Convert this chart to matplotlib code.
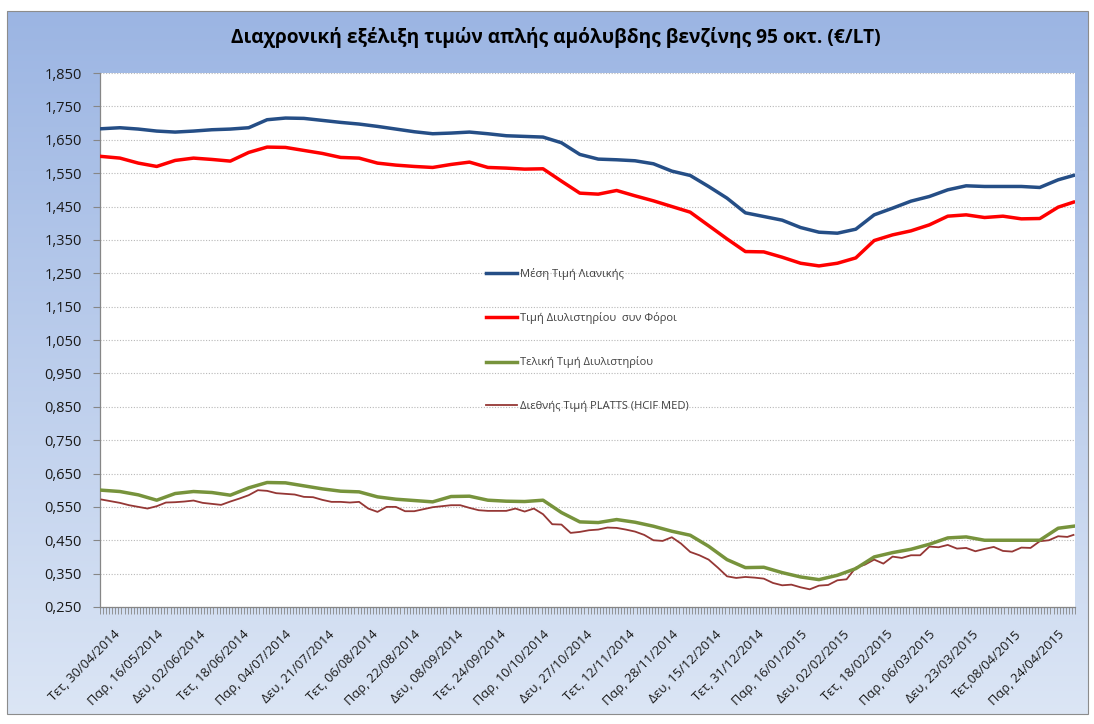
import numpy as np
import pandas as pd
import matplotlib
matplotlib.use('Agg')
import matplotlib.pyplot as plt
import matplotlib.transforms as mtransforms
from matplotlib.patches import Rectangle

plt.rcParams['font.family'] = ['Open Sans', 'DejaVu Sans']

# category axis: Mon-Sat price days
days = pd.bdate_range('2014-04-30', periods=318, freq='C', weekmask='Mon Tue Wed Thu Fri Sat')
n_days = len(days)

# weekly readings (every 6 price days, plus last day)
weekly_pos = list(range(0, 313, 6)) + [n_days - 1]
# twice-weekly readings for the noisier PLATTS series
platts_pos = list(range(0, 316, 3)) + [n_days - 1]

retail = [1.683, 1.686, 1.682, 1.676, 1.673, 1.676, 1.680, 1.682, 1.686, 1.710,
          1.715, 1.714, 1.708, 1.702, 1.697, 1.690, 1.682, 1.674, 1.668, 1.670,
          1.673, 1.668, 1.662, 1.660, 1.658, 1.641, 1.606, 1.592, 1.590, 1.587,
          1.578, 1.556, 1.543, 1.510, 1.475, 1.431, 1.420, 1.409, 1.387, 1.373,
          1.370, 1.382, 1.425, 1.445, 1.466, 1.480, 1.500, 1.512, 1.510, 1.510,
          1.510, 1.507, 1.530, 1.543]

refinery_tax = [1.600, 1.595, 1.580, 1.570, 1.588, 1.595, 1.591, 1.586, 1.612, 1.628,
                1.627, 1.618, 1.609, 1.597, 1.595, 1.580, 1.574, 1.570, 1.567, 1.576,
                1.583, 1.567, 1.565, 1.562, 1.563, 1.526, 1.490, 1.487, 1.498, 1.482,
                1.467, 1.450, 1.433, 1.393, 1.353, 1.315, 1.314, 1.298, 1.280, 1.272,
                1.280, 1.296, 1.348, 1.365, 1.377, 1.395, 1.421, 1.425, 1.417, 1.421,
                1.413, 1.414, 1.448, 1.463]

refinery = [0.600, 0.596, 0.586, 0.570, 0.590, 0.596, 0.593, 0.585, 0.607, 0.623,
            0.622, 0.613, 0.604, 0.597, 0.595, 0.580, 0.573, 0.569, 0.565, 0.581,
            0.582, 0.570, 0.567, 0.566, 0.570, 0.533, 0.505, 0.503, 0.512, 0.504,
            0.492, 0.477, 0.465, 0.432, 0.392, 0.368, 0.369, 0.353, 0.340, 0.332,
            0.345, 0.365, 0.400, 0.413, 0.423, 0.438, 0.457, 0.460, 0.450, 0.450,
            0.450, 0.450, 0.486, 0.492]

platts = [0.572, 0.567, 0.562, 0.555, 0.550, 0.545, 0.552, 0.563, 0.564, 0.566,
          0.569, 0.562, 0.559, 0.556, 0.566, 0.575, 0.585, 0.600, 0.598, 0.591,
          0.589, 0.587, 0.580, 0.579, 0.571, 0.565, 0.565, 0.563, 0.565, 0.545,
          0.535, 0.550, 0.550, 0.537, 0.537, 0.543, 0.549, 0.552, 0.555, 0.555,
          0.547, 0.540, 0.538, 0.538, 0.538, 0.545, 0.536, 0.545, 0.528, 0.498,
          0.497, 0.472, 0.475, 0.480, 0.482, 0.488, 0.487, 0.482, 0.476, 0.466,
          0.450, 0.448, 0.459, 0.440, 0.415, 0.405, 0.392, 0.368, 0.342, 0.337,
          0.340, 0.338, 0.335, 0.322, 0.315, 0.317, 0.309, 0.303, 0.314, 0.316,
          0.330, 0.333, 0.368, 0.377, 0.392, 0.380, 0.401, 0.397, 0.405, 0.405,
          0.431, 0.429, 0.436, 0.425, 0.427, 0.417, 0.424, 0.430, 0.418, 0.416,
          0.428, 0.427, 0.447, 0.450, 0.462, 0.460, 0.466]

tick_labels = ['Τετ, 30/04/2014', 'Παρ, 16/05/2014', 'Δευ, 02/06/2014', 'Τετ, 18/06/2014',
               'Παρ, 04/07/2014', 'Δευ, 21/07/2014', 'Τετ, 06/08/2014', 'Παρ, 22/08/2014',
               'Δευ, 08/09/2014', 'Τετ, 24/09/2014', 'Παρ, 10/10/2014', 'Δευ, 27/10/2014',
               'Τετ, 12/11/2014', 'Παρ, 28/11/2014', 'Δευ, 15/12/2014', 'Τετ, 31/12/2014',
               'Παρ, 16/01/2015', 'Δευ, 02/02/2015', 'Τετ, 18/02/2015', 'Παρ, 06/03/2015',
               'Δευ, 23/03/2015', 'Τετ,08/04/2015', 'Παρ, 24/04/2015']
tick_pos = list(range(0, n_days, 14))

series_names = ['Μέση Τιμή Λιανικής', 'Τιμή Διυλιστηρίου  συν Φόροι',
                'Τελική Τιμή Διυλιστηρίου', 'Διεθνής Τιμή PLATTS (HCIF MED)']

W, H = 1094, 724
fig = plt.figure(figsize=(W / 100, H / 100), dpi=100)
fig.patch.set_facecolor('white')

# chart area background with vertical gradient
bg = fig.add_axes([0, 0, 1, 1], zorder=-5)
bg.set_xlim(0, W)
bg.set_ylim(H, 0)
bg.axis('off')
x0, y0, x1, y1 = 7, 11, 1088, 714
grad = np.linspace(0, 1, 256).reshape(-1, 1)
top = np.array([0.61, 0.71, 0.89])
bot = np.array([0.86, 0.90, 0.96])
img = top + grad[..., None] * (bot - top)
bg.imshow(img, extent=[x0, x1, y1, y0], aspect='auto', interpolation='bilinear')
bg.add_patch(Rectangle((x0, y0), x1 - x0, y1 - y0, fill=False, edgecolor='#8c8c8c', lw=0.8))

fig.text(556 / W, 1 - 38 / H,
         'Διαχρονική εξέλιξη τιμών απλής αμόλυβδης βενζίνης 95 οκτ. (€/LT)',
         ha='center', va='center', fontsize=13.8, fontweight='bold', color='black')

ax = fig.add_axes([100 / W, 1 - 607 / H, 975 / W, 534 / H])
ax.set_facecolor('white')

ax.plot(weekly_pos, retail, color='#254E86', lw=2.5, label=series_names[0], zorder=4)
ax.plot(weekly_pos, refinery_tax, color='#FF0000', lw=2.5, label=series_names[1], zorder=4)
ax.plot(weekly_pos, refinery, color='#77933C', lw=2.5, label=series_names[2], zorder=4)
ax.plot(platts_pos, platts, color='#953735', lw=1.3, label=series_names[3], zorder=3)

ax.set_xlim(-0.5, n_days - 0.5)
ax.set_ylim(0.25, 1.85)

yt = np.arange(0.25, 1.851, 0.1)
ax.set_yticks(yt)
ax.set_yticklabels([('%.3f' % v).replace('.', ',') for v in yt], fontsize=10.5, color='#1a1a1a')
ax.tick_params(axis='y', length=5, width=0.8, color='#868686', pad=8)
ax.yaxis.grid(True, linestyle=(0, (1, 1.5)), color='#b8b8b8', lw=0.8)
ax.set_axisbelow(True)

ax.set_xticks(tick_pos)
ax.set_xticklabels(tick_labels, rotation=45, ha='right', rotation_mode='anchor',
                   fontsize=9.3, color='#1a1a1a')
ax.set_xticks(np.arange(-0.5, n_days, 1), minor=True)
ax.tick_params(axis='x', which='major', length=0, pad=15)
ax.tick_params(axis='x', which='minor', length=5, width=0.6, color='#868686')
shift = mtransforms.ScaledTranslation(12 / 100, 0, fig.dpi_scale_trans)
for lab in ax.get_xticklabels():
    lab.set_transform(lab.get_transform() + shift)

for side in ['top', 'right']:
    ax.spines[side].set_visible(False)
for side in ['left', 'bottom']:
    ax.spines[side].set_color('#868686')
    ax.spines[side].set_linewidth(0.9)

leg = ax.legend(loc='upper left', bbox_to_anchor=(480 / W, 1 - 262 / H),
                bbox_transform=fig.transFigure, frameon=False, fontsize=8,
                labelspacing=2.92, handlelength=2.8, handletextpad=0.3, borderpad=0)
for t in leg.get_texts():
    t.set_color('#404040')

fig.savefig('out.png', dpi=100)
